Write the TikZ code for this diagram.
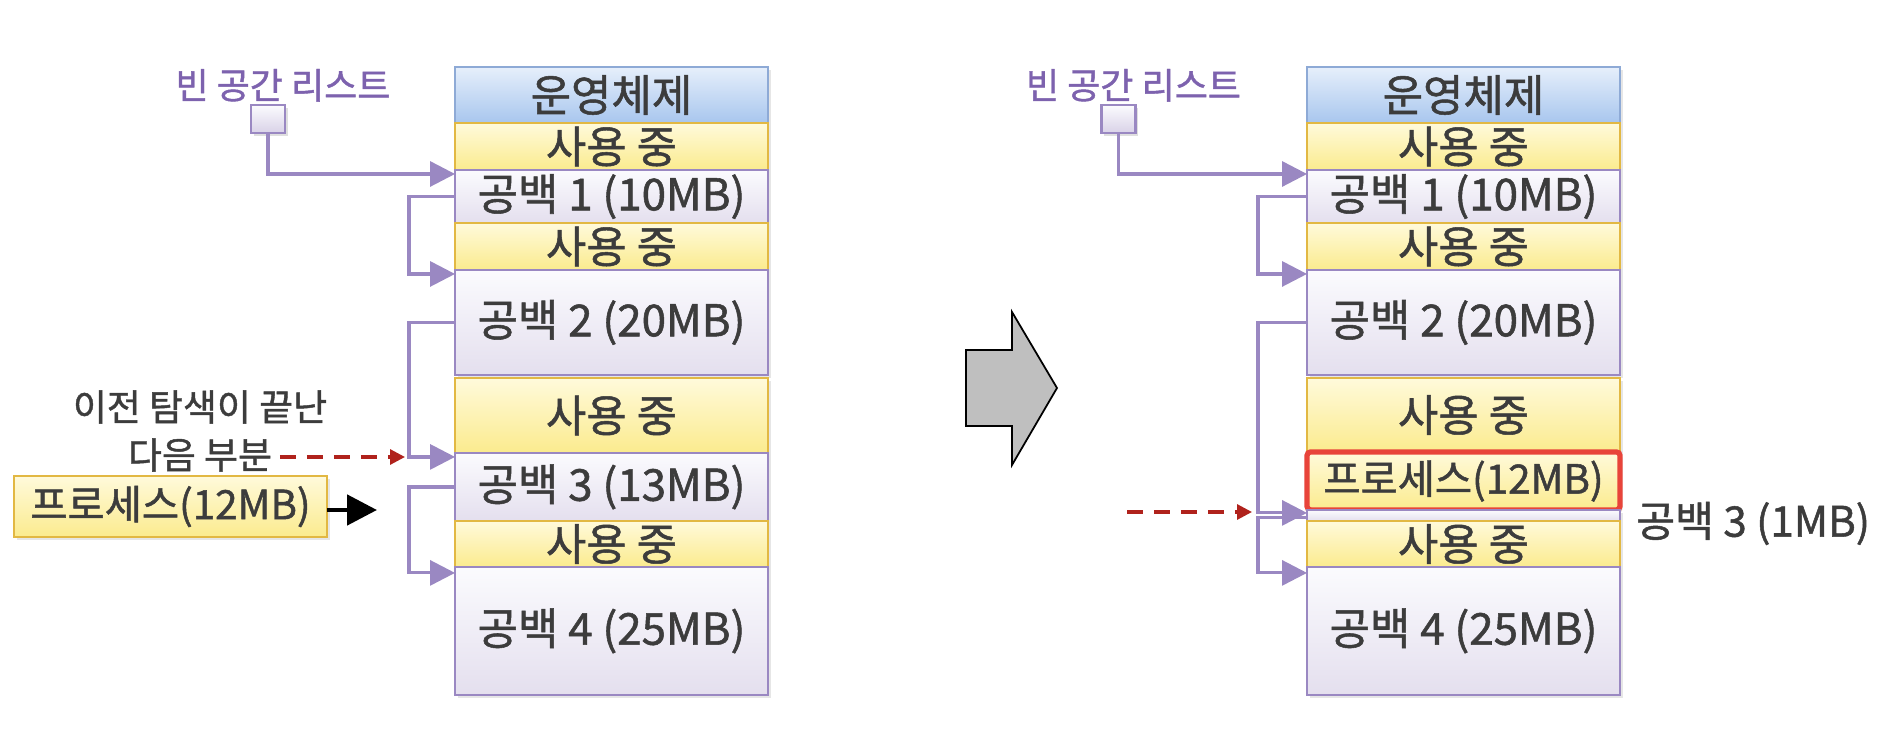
\documentclass[tikz,border=0pt]{standalone}
\usepackage{fontspec}
\setmainfont{Noto Sans CJK KR}[RawFeature={embolden=1.2}]
\usetikzlibrary{arrows.meta,positioning,shadows}

\definecolor{txtgray}{HTML}{3C3C3C}
\definecolor{lineviolet}{HTML}{9A88C2}
\definecolor{labelviolet}{HTML}{7D62AE}
\definecolor{freetop}{HTML}{FBFBFE}
\definecolor{freebot}{HTML}{E4DFEE}
\definecolor{usedtop}{HTML}{FFFADB}
\definecolor{usedbot}{HTML}{FBEB8E}
\definecolor{useddraw}{HTML}{E2B843}
\definecolor{ostop}{HTML}{E6EFFB}
\definecolor{osbot}{HTML}{A8C6EE}
\definecolor{osdraw}{HTML}{8EAAD6}
\definecolor{hitred}{HTML}{B0221C}
\definecolor{boxred}{HTML}{E8443A}

\tikzset{
  mem/.style={minimum width=6.26cm, inner sep=0pt, outer sep=0pt, line width=1.2pt,
    font=\fontsize{25}{28}\selectfont, text=txtgray,
    drop shadow={shadow xshift=1.5pt, shadow yshift=-1.5pt, opacity=0.2}},
  os/.style={mem, draw=osdraw, top color=ostop, bottom color=osbot},
  used/.style={mem, draw=useddraw, top color=usedtop, bottom color=usedbot},
  free/.style={mem, draw=lineviolet, top color=freetop, bottom color=freebot},
  proc/.style={used, font=\fontsize{23}{26}\selectfont},
  listhead/.style={draw=lineviolet, line width=1.2pt, minimum width=0.68cm, minimum height=0.56cm,
    inner sep=0pt, top color=freetop, bottom color=freebot!85!lineviolet,
    drop shadow={shadow xshift=1.5pt, shadow yshift=-1.5pt, opacity=0.25}},
  listlabel/.style={text=labelviolet, inner sep=0pt, font=\fontsize{20.5}{23}\selectfont},
  note/.style={text=txtgray, inner sep=0.15cm, font=\fontsize{21}{24}\selectfont},
  side/.style={text=txtgray, inner sep=0pt, font=\fontsize{24}{27}\selectfont},
  link/.style={draw=lineviolet, line width=1.8pt, -{Triangle[length=0.5cm,width=0.5cm]}},
  search/.style={draw=hitred, line width=1.8pt, dash pattern=on 0.32cm off 0.22cm,
    -{Triangle[length=0.3cm,width=0.3cm]}},
  push/.style={draw=black, line width=2.8pt, -{Triangle[length=0.6cm,width=0.6cm]}}
}

\begin{document}
\begin{tikzpicture}[x=0.02cm,y=-0.02cm]
  \useasboundingbox (0,0) rectangle (1898,736);

  % before: memory map
  \node[os] (osL) at (611.5,95) [minimum height=1.12cm] {운영체제};
  \node[used] (used1L) [below=0pt of osL, minimum height=0.94cm] {사용 중};
  \node[free] (free1L) [below=0pt of used1L, minimum height=1.06cm] {공백 1 (10MB)};
  \node[used] (used2L) [below=0pt of free1L, minimum height=0.94cm] {사용 중};
  \node[free] (free2L) [below=0pt of used2L, minimum height=2.10cm] {공백 2 (20MB)};
  \node[used] (used3L) [below=0.06cm of free2L, minimum height=1.50cm] {사용 중};
  \node[free] (free3L) [below=0pt of used3L, minimum height=1.36cm] {공백 3 (13MB)};
  \node[used] (used4L) [below=0pt of free3L, minimum height=0.92cm] {사용 중};
  \node[free] (free4L) [below=0pt of used4L, minimum height=2.56cm] {공백 4 (25MB)};

  \node[listhead] (sqL) at (268,119) {};
  \node[listlabel] (lblL) [above=0.04cm of sqL, xshift=0.3cm] {빈 공간 리스트};

  \node[note] (prevL) at (200,407) {이전 탐색이 끝난};
  \node[note] (nextL) at (200,455) {다음 부분};
  \coordinate (hitL) at (405,457);

  \node[proc] (procL) at (170.5,506.5) [minimum height=1.22cm] {프로세스(12MB)};
  \coordinate (procTipL) at (377,510);

  \draw[link] (sqL) |- ([yshift=-0.08cm]free1L.north west);
  \draw[link] (free1L.west) -- ++(-46,0) |- ([yshift=-0.08cm]free2L.north west);
  \draw[link] (free2L.west) -- ++(-46,0) |- ([yshift=-0.08cm]free3L.north west);
  \draw[link] (free3L.west) -- ++(-46,0) |- ([yshift=-0.12cm]free4L.north west);
  \draw[search] (nextL.east |- hitL) -- (hitL);
  \draw[push] (procL.east |- procTipL) -- (procTipL);

  % big arrow
  \draw[fill=black!25, line width=1pt] (966,350) -- (1012,350) -- (1012,312) -- (1057,388)
    -- (1012,465) -- (1012,426) -- (966,426) -- cycle;

  % after: memory map
  \node[os] (osR) at (1463.5,95) [minimum height=1.12cm] {운영체제};
  \node[used] (used1R) [below=0pt of osR, minimum height=0.94cm] {사용 중};
  \node[free] (free1R) [below=0pt of used1R, minimum height=1.06cm] {공백 1 (10MB)};
  \node[used] (used2R) [below=0pt of free1R, minimum height=0.94cm] {사용 중};
  \node[free] (free2R) [below=0pt of used2R, minimum height=2.10cm] {공백 2 (20MB)};
  \node[used] (used3R) [below=0.06cm of free2R, minimum height=1.48cm] {사용 중};
  \node[proc] (procR) [below=0pt of used3R, minimum height=1.16cm, draw=boxred,
    line width=3pt, rounded corners=2pt] {프로세스(12MB)};
  \node[free] (free3R) [below=0pt of procR, minimum height=0.22cm] {};
  \node[used] (used4R) [below=0pt of free3R, minimum height=0.92cm] {사용 중};
  \node[free] (free4R) [below=0pt of used4R, minimum height=2.56cm] {공백 4 (25MB)};
  \node[side] (restR) [right=0.32cm of free3R.east, yshift=-0.16cm] {공백 3 (1MB)};

  \node[listhead] (sqR) at (1118.5,119) {};
  \node[listlabel] (lblR) [above=0.04cm of sqR, xshift=0.3cm] {빈 공간 리스트};

  \coordinate (fromR) at (1127,512);
  \coordinate (hitR) at (1252,512);

  \draw[link] (sqR) |- ([yshift=-0.08cm]free1R.north west);
  \draw[link] (free1R.west) -- ++(-49,0) |- ([yshift=-0.08cm]free2R.north west);
  \draw[link] (free2R.west) -- ++(-49,0) |- ([yshift=0.05cm]free3R.west);
  \draw[link] ([yshift=-0.05cm]free3R.west) -- ++(-49,0) |- ([yshift=-0.12cm]free4R.north west);
  \draw[search] (fromR) -- (hitR);
\end{tikzpicture}
\end{document}
